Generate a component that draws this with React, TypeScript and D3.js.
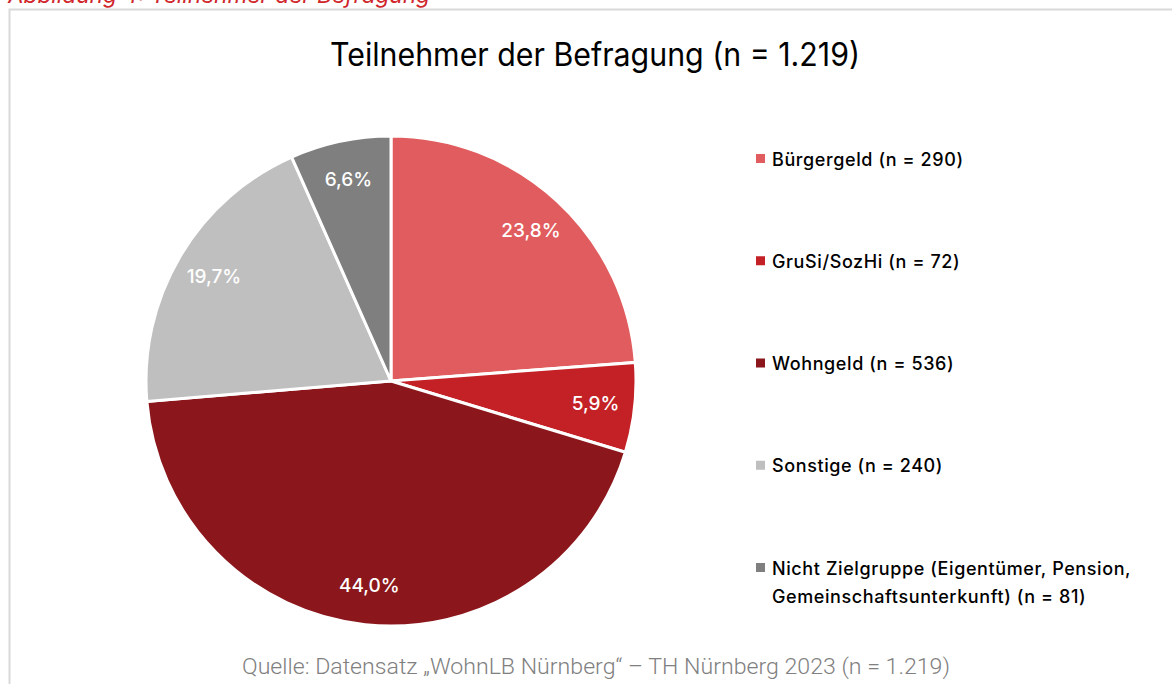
import React from "react";
import * as d3 from "d3";

const width = 1172;
const height = 684;

const categories = [
  "Bürgergeld (n = 290)",
  "GruSi/SozHi (n = 72)",
  "Wohngeld (n = 536)",
  "Sonstige (n = 240)",
  "Nicht Zielgruppe (Eigentümer, Pension,|Gemeinschaftsunterkunft) (n = 81)",
];
const counts = [290, 72, 536, 240, 81];
const shareLabels = ["23,8%", "5,9%", "44,0%", "19,7%", "6,6%"];
const colors = ["#E15C5E", "#C42127", "#8B171C", "#BFBFBF", "#7F7F7F"];

const cx = 391;
const cy = 381;
const radius = 245;
const font = "Inter, 'Noto Sans', sans-serif";

export default function App() {
  const pie = d3
    .pie<number>()
    .sort(null)
    .value((d) => d);
  const arcs = pie(counts);
  const arc = d3.arc<d3.PieArcDatum<number>>().innerRadius(0).outerRadius(radius);
  const labelArc = d3
    .arc<d3.PieArcDatum<number>>()
    .innerRadius(radius * 0.84)
    .outerRadius(radius * 0.84);

  const legendY = d3.scalePoint<number>().domain(d3.range(5)).range([159, 568]);

  return (
    <svg
      width={width}
      height={height}
      style={{ position: "absolute", left: 0, top: 0, background: "#fff" }}
    >
      <text
        x={8}
        y={3}
        fill="#D0262C"
        fontStyle="italic"
        fontSize={22}
        textLength={422}
        lengthAdjust="spacingAndGlyphs"
        fontFamily={font}
      >
        Abbildung 4: Teilnehmer der Befragung
      </text>
      <path d={`M9.5,${height} V9.5 H${width}`} fill="none" stroke="#D9D9D9" strokeWidth={2} />

      <text
        x={595}
        y={66}
        textAnchor="middle"
        fontSize={32}
        textLength={530}
        lengthAdjust="spacingAndGlyphs"
        fontFamily={font}
        fill="#000"
      >
        Teilnehmer der Befragung (n = 1.219)
      </text>

      <g transform={`translate(${cx},${cy})`}>
        {arcs.map((a, i) => (
          <path key={i} d={arc(a) || ""} fill={colors[i]} stroke="#fff" strokeWidth={3} />
        ))}
        {arcs.map((a, i) => {
          const [x, y] = labelArc.centroid(a);
          return (
            <text
              key={i}
              x={x}
              y={y}
              textAnchor="middle"
              dominantBaseline="central"
              fill="#fff"
              fontSize={19}
              fontWeight={500}
              fontFamily={font}
            >
              {shareLabels[i]}
            </text>
          );
        })}
      </g>

      <g>
        {categories.map((c, i) => {
          const y = legendY(i) as number;
          const lines = c.split("|");
          return (
            <g key={i}>
              <rect x={756} y={y - 5} width={9} height={9} fill={colors[i]} />
              {lines.map((l, j) => (
                <text
                  key={j}
                  x={772}
                  y={y + j * 28}
                  dominantBaseline="central"
                  fontSize={18}
                  fontWeight={500}
                  letterSpacing={0.6}
                  fontFamily={font}
                  fill="#000"
                >
                  {l}
                </text>
              ))}
            </g>
          );
        })}
      </g>

      <text
        x={596}
        y={674}
        textAnchor="middle"
        fontSize={22}
        fontWeight={300}
        textLength={708}
        lengthAdjust="spacingAndGlyphs"
        fontFamily="Roboto, sans-serif"
        fill="#808080"
      >
        Quelle: Datensatz „WohnLB Nürnberg“ – TH Nürnberg 2023 (n = 1.219)
      </text>
    </svg>
  );
}
